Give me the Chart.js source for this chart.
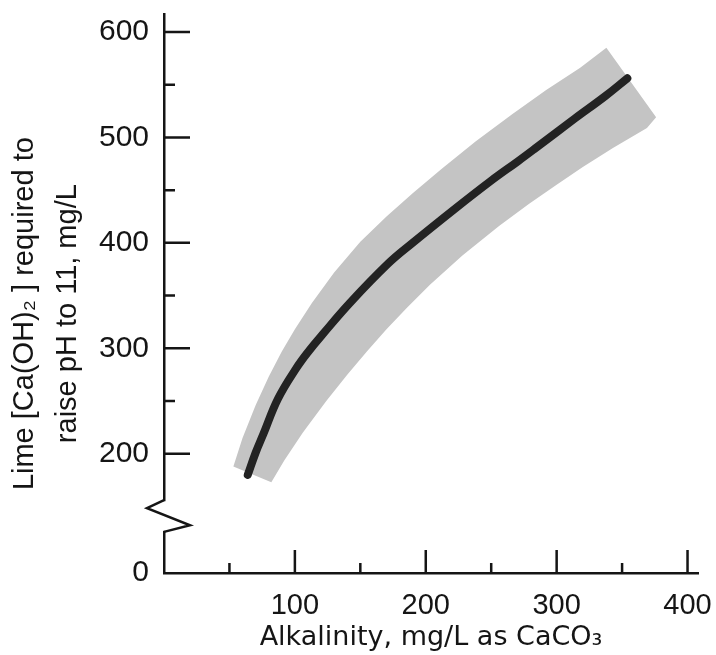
<!DOCTYPE html>
<html>
<head>
<meta charset="utf-8">
<script src="https://cdn.jsdelivr.net/npm/chart.js@4.4.1/dist/chart.umd.min.js"></script>
<style>
  body { margin: 0; background: #fff; }
</style>
</head>
<body>
<canvas id="chart" width="716" height="655"></canvas>
<script>
// lime needed to reach pH 11 vs alkalinity
const curveX = [64, 70, 76, 87, 101, 111, 121, 142, 171, 189, 222, 250, 270, 283, 314, 337, 354];
const curveY = [180, 201, 219, 252, 281, 298, 313, 343, 380, 399, 432, 459, 477, 489, 518, 539, 556];

// grey scatter band: upper/left edge and lower/right edge
const bandTopX = [53, 60, 70, 80, 90, 100, 113, 130, 150, 170, 190, 212, 238, 266, 292, 318, 338];
const bandTopY = [188, 215, 246, 273, 297, 318, 343, 372, 401, 425, 447, 470, 496, 522, 545, 566, 585];
const bandBottomX = [82, 92, 106, 124, 140, 155, 170, 186, 203, 228, 256, 279, 300, 320, 343, 369, 376];
const bandBottomY = [173, 194, 220, 250, 275, 297, 318, 339, 360, 388, 416, 437, 455, 472, 490, 509, 519];

const xMajorTicks = [100, 200, 300, 400];
const xMinorTicks = [50, 150, 250, 350];
const yMajorTicks = [200, 300, 400, 500, 600];
const yMinorTicks = [250, 350, 450, 550];

// y axis is broken: the bottom of the axis stands for 0
const yBase = 87;
const yBreakFrom = 156;
const yBreakTo = 126;

const ink = '#151515';
const pad = '\u00a0\u00a0\u00a0\u00a0\u00a0'; // nudges the rotated title down a bit

function toPoints(xs, ys) {
  return xs.map((x, i) => ({ x: x, y: ys[i] }));
}

var bandPoints = toPoints(bandTopX, bandTopY).concat(toPoints(bandBottomX, bandBottomY).reverse());

// tick marks point into the plot, plus the zigzag break on the y axis
const axisMarks = {
  id: 'axisMarks',
  afterDraw(chart) {
    const ctx = chart.ctx;
    const xs = chart.scales.x;
    const ys = chart.scales.y;
    const left = chart.chartArea.left;
    const bottom = chart.chartArea.bottom;
    ctx.save();
    ctx.strokeStyle = ink;
    ctx.lineWidth = 2.5;
    ctx.beginPath();
    yMajorTicks.forEach(v => { const p = ys.getPixelForValue(v); ctx.moveTo(left, p); ctx.lineTo(left + 26, p); });
    yMinorTicks.forEach(v => { const p = ys.getPixelForValue(v); ctx.moveTo(left, p); ctx.lineTo(left + 11, p); });
    xMajorTicks.forEach(v => { const p = xs.getPixelForValue(v); ctx.moveTo(p, bottom); ctx.lineTo(p, bottom - 23); });
    xMinorTicks.forEach(v => { const p = xs.getPixelForValue(v); ctx.moveTo(p, bottom); ctx.lineTo(p, bottom - 10); });
    ctx.stroke();

    const b1 = ys.getPixelForValue(yBreakFrom);
    const b2 = ys.getPixelForValue(yBreakTo);
    ctx.fillStyle = '#fff';
    ctx.fillRect(left - 4, b1 + 1, 8, b2 - b1 - 2);
    ctx.beginPath();
    ctx.moveTo(left, b1);
    ctx.lineTo(left - 17, b1 + 8);
    ctx.lineTo(left + 26, b1 + 25);
    ctx.lineTo(left, b2);
    ctx.stroke();
    ctx.restore();
  }
};

new Chart(document.getElementById('chart'), {
  type: 'line',
  data: {
    datasets: [
      {
        data: toPoints(curveX, curveY),
        borderColor: '#232323',
        borderWidth: 8,
        borderCapStyle: 'round',
        pointRadius: 0,
        tension: 0.4,
        fill: false,
        order: 1
      },
      {
        data: bandPoints,
        borderWidth: 0,
        borderColor: 'rgba(0,0,0,0)',
        backgroundColor: '#c4c4c4',
        pointRadius: 0,
        tension: 0,
        fill: 'shape',
        order: 2
      }
    ]
  },
  options: {
    responsive: false,
    animation: false,
    devicePixelRatio: 1,
    layout: { padding: { top: 14, right: 18, left: 0, bottom: 0 } },
    plugins: {
      legend: { display: false },
      tooltip: { enabled: false }
    },
    scales: {
      x: {
        type: 'linear',
        min: 0,
        max: 408,
        afterBuildTicks: s => { s.ticks = xMajorTicks.map(v => ({ value: v })); },
        afterFit: s => { s.height = 82; s.paddingRight = 0; s.paddingLeft = 0; },
        grid: { display: false },
        border: { display: true, color: ink, width: 2.5 },
        ticks: {
          padding: 8,
          color: ink,
          maxRotation: 0,
          font: { family: 'Liberation Sans', size: 29 }
        },
        title: {
          display: true,
          text: 'Alkalinity, mg/L as CaCO₃',
          color: ink,
          font: { family: 'DejaVu Sans', size: 27 },
          padding: { top: 0, bottom: 1 }
        }
      },
      y: {
        type: 'linear',
        min: yBase,
        max: 617,
        afterBuildTicks: s => { s.ticks = [yBase].concat(yMajorTicks).map(v => ({ value: v })); },
        afterFit: s => { s.width = 164; s.paddingTop = 0; },
        grid: { display: false },
        border: { display: true, color: ink, width: 2.5 },
        ticks: {
          padding: 7,
          color: ink,
          font: { family: 'Liberation Sans', size: 30 },
          callback: v => (v === yBase ? '0' : v)
        },
        title: {
          display: true,
          text: ['Lime [Ca(OH)₂ ] required to' + pad, 'raise pH to 11, mg/L' + pad],
          color: ink,
          font: { family: 'Liberation Sans', size: 29, lineHeight: 1.5 },
          padding: { top: 3, bottom: 0 }
        }
      }
    }
  },
  plugins: [axisMarks]
});
</script>
</body>
</html>
